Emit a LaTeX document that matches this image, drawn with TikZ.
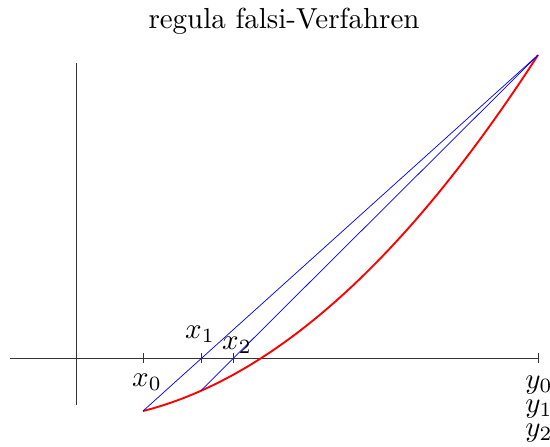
\documentclass[tikz,border=0pt]{standalone}
\usepackage{amsmath, amssymb}
\usepackage{tikz}
\usetikzlibrary{positioning}

\begin{document}
\begin{tikzpicture}[
    x=0.345pt, y=-0.345pt,
    axis/.style={line width=0.3pt, black!80},
    tick/.style={line width=0.3pt, black!80},
    secant/.style={blue, line width=0.25pt},
    graph/.style={red, line width=0.65pt},
    label/.style={inner sep=0pt}
]
\useasboundingbox (0,0) rectangle (550,446);

\node (title) at (284,21) {regula falsi-Verfahren};

% axes
\coordinate (xl) at (10,358);
\coordinate (xr) at (538,358);
\coordinate (yt) at (76,63);
\coordinate (yb) at (76,405);
\draw[axis] (xl) -- (xr);
\draw[axis] (yb) -- (yt);

% points of the graph
\coordinate (p0) at (143,411);
\coordinate (p1) at (201,390.5);
\coordinate (pe) at (538,55);

\draw[graph] (p0) .. controls (274.7,377.5) and (406.3,258.9) .. (pe);

% secants
\draw[secant] (p0) -- (pe);
\draw[secant] (p1) -- (pe);

% ticks
\foreach \t/\nm in {143/t0, 201/t1, 233/t2, 538/te} {
    \draw[tick] (\t,353) -- (\t,363);
    \coordinate (\nm) at (\t,358);
}

\node[label] (lx0) at (147,382) {$x_0$};
\node[label] (lx1) at (200,334) {$x_1$};
\node[label] (lx2) at (237,345) {$x_2$};
\node[label] (ly0) at (539,385) {$y_0$};
\node[label] (ly1) at (539,409) {$y_1$};
\node[label] (ly2) at (539,433) {$y_2$};

\end{tikzpicture}
\end{document}
